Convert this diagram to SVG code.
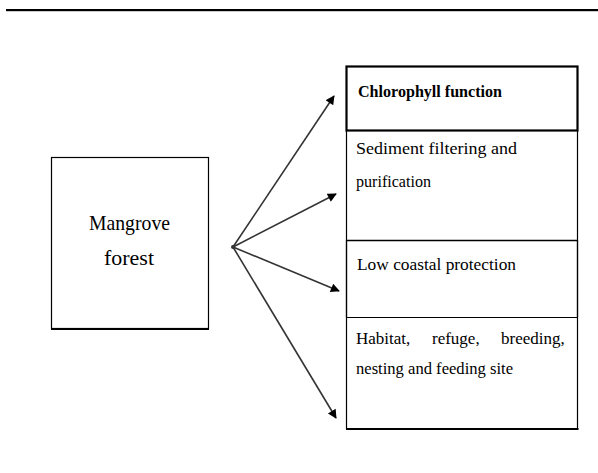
<svg xmlns="http://www.w3.org/2000/svg" width="598" height="473" viewBox="0 0 598 473">
<defs>
<style>
text{font-family:"Liberation Serif","DejaVu Serif","Times New Roman",serif;fill:#000}
.b{fill:#fff;stroke:#000;stroke-width:1.2}
.c{stroke:#333;stroke-width:1.6;fill:none;marker-end:url(#ah)}
</style>
<marker id="ah" viewBox="0 0 10 10" refX="9" refY="5" markerWidth="11" markerHeight="9" markerUnits="userSpaceOnUse" orient="auto">
<path d="M0,0 L10,5 L0,10 z" fill="#000"/>
</marker>
</defs>
<rect x="0" y="0" width="598" height="473" fill="#fff"/>
<rect x="6" y="9" width="592" height="2.2" fill="#000"/>
<g id="mangrove">
<rect class="b" x="51.5" y="157.5" width="157" height="171"/>
<line x1="51" y1="329" x2="209" y2="329" stroke="#000" stroke-width="2"/>
<text font-family="'Liberation Serif', serif" x="89" y="230" font-size="22" textLength="81" lengthAdjust="spacingAndGlyphs">Mangrove</text>
<text font-family="'Liberation Serif', serif" x="104" y="265" font-size="22" textLength="50" lengthAdjust="spacingAndGlyphs">forest</text>
</g>
<g id="connectors">
<circle cx="233" cy="247" r="2" fill="#333"/>
<line class="c" x1="233" y1="247" x2="334" y2="96"/>
<line class="c" x1="233" y1="247" x2="336" y2="194"/>
<line class="c" x1="233" y1="247" x2="339" y2="291"/>
<line class="c" x1="233" y1="247" x2="336" y2="418"/>
</g>
<g id="chlorophyll">
<rect x="346.5" y="66.5" width="231" height="64" fill="#fff" stroke="#000" stroke-width="2.2"/>
<text font-family="'Liberation Serif', serif" x="358" y="97" font-size="16" font-weight="bold" textLength="144" lengthAdjust="spacingAndGlyphs">Chlorophyll function</text>
</g>
<g id="sediment">
<path d="M346.5,131 V240 M577.5,131 V240" stroke="#000" stroke-width="1.2" fill="none"/>
<text font-family="'Liberation Serif', serif" x="356" y="154" font-size="17" textLength="161" lengthAdjust="spacingAndGlyphs">Sediment filtering  and</text>
<text font-family="'Liberation Serif', serif" x="356" y="187" font-size="17" textLength="75" lengthAdjust="spacingAndGlyphs">purification</text>
</g>
<g id="coastal">
<path d="M346.5,240 V317 M577.5,240 V317 M346,240.5 H578" stroke="#000" stroke-width="1.4" fill="none"/>
<text font-family="'Liberation Serif', serif" x="357" y="270" font-size="17" textLength="159" lengthAdjust="spacingAndGlyphs">Low coastal protection</text>
</g>
<g id="habitat">
<path d="M346.5,317 V429 M577.5,317 V429 M346,317.5 H578" stroke="#000" stroke-width="1.2" fill="none"/>
<line x1="346" y1="429" x2="578.5" y2="429" stroke="#000" stroke-width="2.2"/>
<text font-family="'Liberation Serif', serif" y="344" font-size="17"><tspan x="356">Habitat,</tspan><tspan x="432">refuge,</tspan><tspan x="501">breeding,</tspan></text>
<text font-family="'Liberation Serif', serif" x="356" y="374" font-size="17" textLength="157" lengthAdjust="spacingAndGlyphs">nesting  and feeding  site</text>
</g>
</svg>
